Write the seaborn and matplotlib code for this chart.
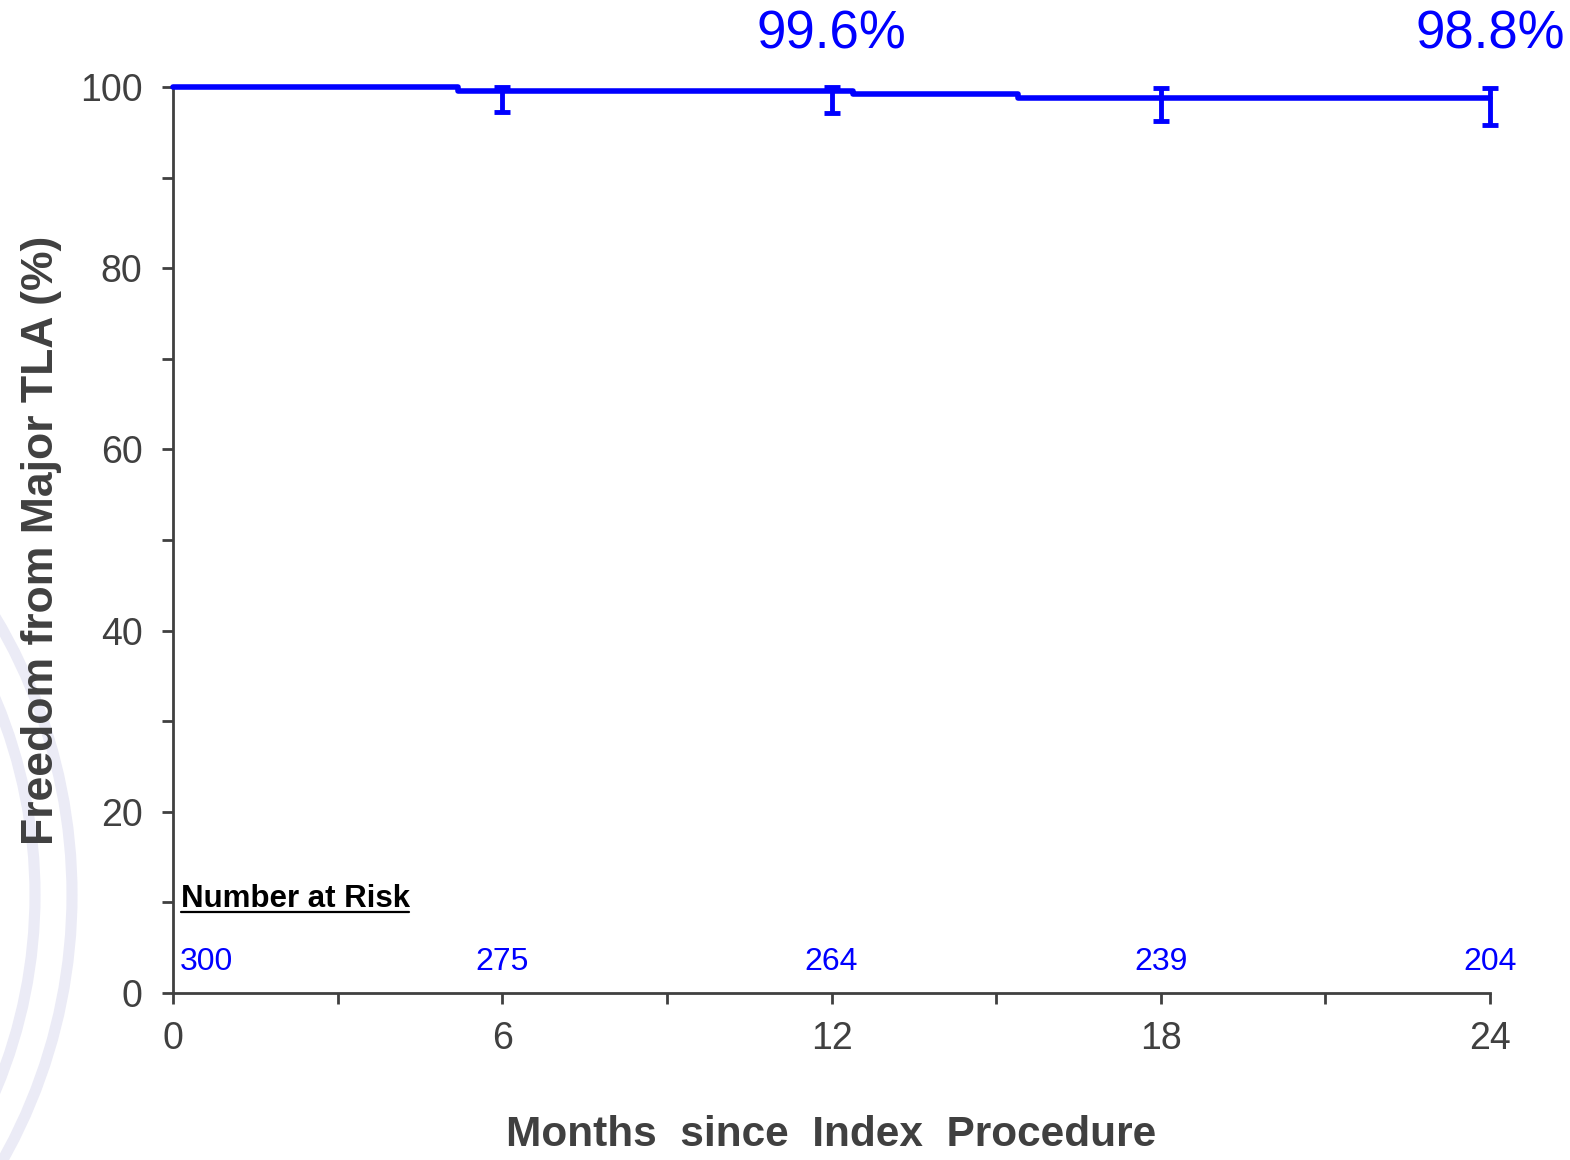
import numpy as np
import pandas as pd
import matplotlib
matplotlib.use("Agg")
import matplotlib.pyplot as plt
from matplotlib.patches import Circle
import seaborn as sns

# --- dados ---
months = [0, 5.2, 12.4, 15.4, 24]
freedom = [100, 99.6, 99.2, 98.8, 98.8]

ci_months = [6, 12, 18, 24]
ci_est = [99.6, 99.6, 98.8, 98.8]
ci_low = [97.2, 97.1, 96.2, 95.8]
ci_high = [100, 100, 99.9, 99.9]

label_months = [12, 24]
label_text = ["99.6%", "98.8%"]

risk_months = [0, 6, 12, 18, 24]
risk_counts = [300, 275, 264, 239, 204]

BLUE = "#0000ff"
GRAY = "#404040"

sns.set_style("white")
plt.rcParams['font.family'] = ['Liberation Sans', 'DejaVu Sans']

fig = plt.figure(figsize=(15.7, 11.6), dpi=100)

# marca d'agua ao fundo (eixo de fundo)
bg = fig.add_axes([0, 0, 1, 1], zorder=-1)
bg.set_xlim(0, 1570)
bg.set_ylim(1160, 0)
bg.axis("off")
for r in [505, 542]:
    bg.add_patch(Circle((-470, 895), r, fill=False, edgecolor="#ebebf6", linewidth=8))

ax = fig.add_axes([173 / 1570, 1 - 993 / 1160, (1490 - 173) / 1570, (993 - 87) / 1160])
ax.patch.set_alpha(0)

df = pd.DataFrame({"meses": months, "livre": freedom})
sns.lineplot(data=df, x="meses", y="livre", drawstyle="steps-post", color=BLUE,
             linewidth=4, ax=ax, clip_on=False, zorder=3)

yerr = [np.array(ci_est) - np.array(ci_low), np.array(ci_high) - np.array(ci_est)]
ax.errorbar(ci_months, ci_est, yerr=yerr, fmt="none", ecolor=BLUE, elinewidth=3.5,
            capsize=6, capthick=3.5, clip_on=False, zorder=4)

for m, t in zip(label_months, label_text):
    ax.text(m, 105.8, t, color=BLUE, fontsize=38, ha="center", va="center", clip_on=False)

ax.text(0.15, 10.4, "Number at Risk", fontsize=22.5, fontweight="bold", color="black",
        ha="left", va="center")
ax.plot([0.15, 4.3], [8.9, 8.9], color="black", linewidth=1.6)

for m, n in zip(risk_months, risk_counts):
    if m == 0:
        ax.text(0.12, 3.4, str(n), color=BLUE, fontsize=23, ha="left", va="center")
    else:
        ax.text(m, 3.4, str(n), color=BLUE, fontsize=23, ha="center", va="center")

ax.set_xlim(0, 24)
ax.set_ylim(0, 100)
ax.set_xticks(range(0, 25, 3))
ax.set_xticklabels(["0", "", "6", "", "12", "", "18", "", "24"])
ax.set_yticks(range(0, 101, 20))
ax.set_yticks(range(10, 100, 20), minor=True)

for s in ["top", "right"]:
    ax.spines[s].set_visible(False)
for s in ["left", "bottom"]:
    ax.spines[s].set_color(GRAY)
    ax.spines[s].set_linewidth(2)

ax.tick_params(axis="both", which="both", direction="out", length=8, width=2, color=GRAY,
               labelsize=27, labelcolor=GRAY)
ax.tick_params(axis="x", pad=12)
ax.tick_params(axis="y", pad=14)
ax.tick_params(left=True, bottom=True, which="both")

ax.set_xlabel("Months  since  Index  Procedure", fontsize=30.5, fontweight="bold", color=GRAY, labelpad=42)
ax.set_ylabel("Freedom from Major TLA (%)", fontsize=32, fontweight="bold", color=GRAY, labelpad=13)

fig.savefig("out.png", dpi=100)
